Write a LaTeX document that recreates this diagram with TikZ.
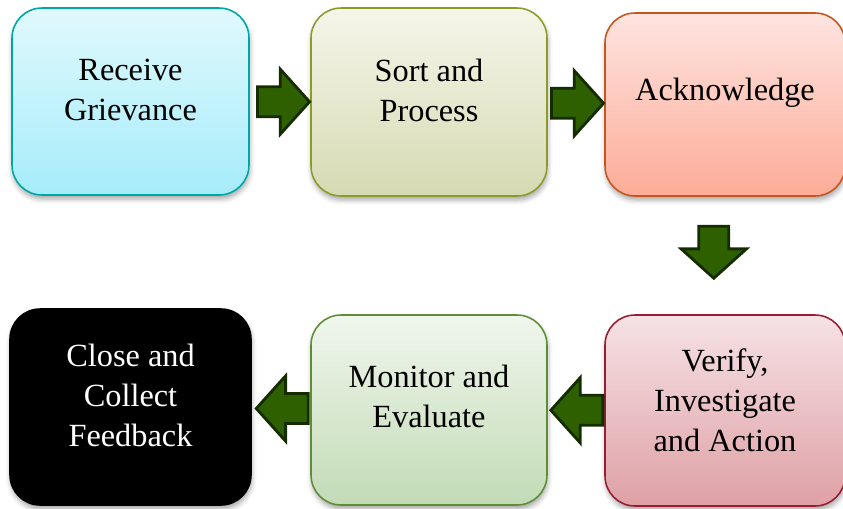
\documentclass[tikz,border=0pt]{standalone}
\usepackage{fontspec}
\setmainfont{Liberation Serif}
\usepackage{tikz}
\usetikzlibrary{shapes.arrows}
\usetikzlibrary{shadows.blur}
\usetikzlibrary{calc}
\definecolor{arrowfill}{HTML}{2F6000}
\definecolor{arrowline}{HTML}{152C00}
\tikzset{
  stage/.style={draw, line width=1.1pt, rounded corners=0.75cm,
    blur shadow={shadow xshift=0.02cm, shadow yshift=-0.1cm, shadow opacity=35, shadow blur radius=0.12cm}},
  stagetext/.style={align=center, font=\fontsize{23}{28.5}\selectfont},
  -blk-/.style={single arrow, draw=arrowline, fill=arrowfill, line width=2pt,
    minimum height=1.3cm, inner xsep=0pt, inner ysep=0.34cm,
    single arrow head extend=0.44cm, single arrow tip angle=96, rotate=#1}
}

\begin{document}
\begin{tikzpicture}
                \useasboundingbox (0,0) rectangle (21.075,-12.7);

                % top row
                \node[stage, draw=teal!70!cyan, top color={rgb,255:red,224;green,249;blue,253}, bottom color={rgb,255:red,166;green,236;blue,251},
                      minimum width=5.925cm, minimum height=4.675cm] (recv) at (3.2625,-2.5375) {};
                \node[stage, draw={rgb,255:red,140;green,155;blue,40}, top color={rgb,255:red,245;green,246;blue,234}, bottom color={rgb,255:red,214;green,218;blue,178},
                      minimum width=5.9cm, minimum height=4.7cm] (sort) at (10.725,-2.55) {};
                \node[stage, draw={rgb,255:red,196;green,86;blue,30}, top color={rgb,255:red,254;green,228;blue,224}, bottom color={rgb,255:red,253;green,172;blue,152},
                      minimum width=6cm, minimum height=4.575cm] (ack) at (18.125,-2.6125) {};

                % bottom row
                \node[stage, draw={rgb,255:red,150;green,30;blue,50}, top color={rgb,255:red,246;green,226;blue,229}, bottom color={rgb,255:red,222;green,160;blue,165},
                      minimum width=6cm, minimum height=4.775cm] (verify) at (18.125,-10.2625) {};
                \node[stage, draw={rgb,255:red,95;green,140;blue,55}, top color={rgb,255:red,240;green,246;blue,236}, bottom color={rgb,255:red,194;green,219;blue,182},
                      minimum width=5.9cm, minimum height=4.75cm] (monitor) at (10.725,-10.25) {};
                \node[stage, draw=black, fill=black,
                      minimum width=6.025cm, minimum height=4.9cm] (close) at (3.2625,-10.175) {};

                % labels sit a little above the middle
                \node[stagetext] at ([yshift=0.28cm]recv.center) {Receive\\Grievance};
                \node[stagetext] at ([yshift=0.28cm]sort.center) {Sort and\\Process};
                \node[stagetext] at ([yshift=0.3cm]ack.center) {Acknowledge};
                \node[stagetext] at ([yshift=0.25cm]verify.center) {Verify,\\Investigate\\and Action};
                \node[stagetext] at ([yshift=0.33cm]monitor.center) {Monitor and\\Evaluate};
                \node[stagetext, text=white] at ([yshift=0.28cm]close.center) {Close and\\Collect\\Feedback};

                % block arrows
                \node[-blk-=0] (a1) at ([xshift=-0.08cm]$(recv.east)!0.5!(sort.west)$) {};
                \node[-blk-=0] (a2) at ([xshift=-0.13cm]$(sort.east)!0.5!(ack.west)$) {};
                \node[-blk-=270] (a3) at ([xshift=-0.28cm,yshift=0.25cm]$(ack.south)!0.5!(verify.north)$) {};
                \node[-blk-=180] (a4) at ([xshift=0.19cm]$(verify.west)!0.5!(monitor.east)$) {};
                \node[-blk-=180] (a5) at ([xshift=0.2cm]$(monitor.west)!0.5!(close.east)$) {};
            \end{tikzpicture}
\end{document}
